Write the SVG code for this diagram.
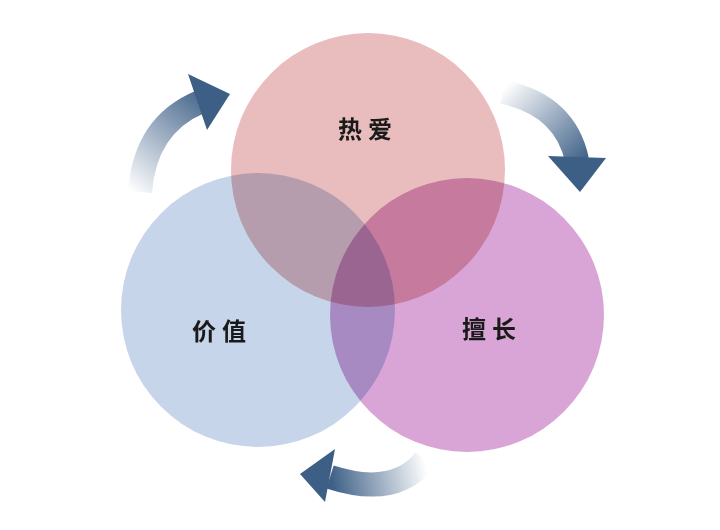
<svg xmlns="http://www.w3.org/2000/svg" width="720" height="530" viewBox="0 0 720 530">
<defs>
<style>
.c{mix-blend-mode:multiply}
.t{font-family:"Noto Sans CJK SC",sans-serif;font-size:24px;font-weight:bold;fill:#1a1a1a;text-anchor:middle;letter-spacing:6px}
</style>
<linearGradient id="g1" gradientUnits="userSpaceOnUse" x1="135" y1="195" x2="215" y2="95"><stop offset="0" stop-color="#3d5f86" stop-opacity="0"/><stop offset="1" stop-color="#3d5f86"/></linearGradient>
<linearGradient id="g2" gradientUnits="userSpaceOnUse" x1="500" y1="92" x2="578" y2="170"><stop offset="0" stop-color="#3d5f86" stop-opacity="0"/><stop offset="1" stop-color="#3d5f86"/></linearGradient>
<linearGradient id="g3" gradientUnits="userSpaceOnUse" x1="425" y1="460" x2="330" y2="478"><stop offset="0" stop-color="#3d5f86" stop-opacity="0"/><stop offset="1" stop-color="#3d5f86"/></linearGradient>
</defs>
<rect width="720" height="530" fill="#fff"/>
<g id="connectors">
<path d="M140,192 Q145,125 200,102" fill="none" stroke="url(#g1)" stroke-width="24"/>
<polygon points="230,94 188,74 207,130" fill="#3d5f86"/>
<path d="M503,92 Q565,105 577,160" fill="none" stroke="url(#g2)" stroke-width="24"/>
<polygon points="580,192 548,156 606,158" fill="#3d5f86"/>
<path d="M425,460 Q395,498 330,477" fill="none" stroke="url(#g3)" stroke-width="24"/>
<polygon points="300,474 335,449 325,502" fill="#3d5f86"/>
</g>
<g id="top"><circle class="c" cx="368" cy="170" r="137" fill="#e9bcbd"/></g>
<g id="left"><circle class="c" cx="258" cy="310" r="137" fill="#c3d3e8" opacity="0.95"/></g>
<g id="right"><circle class="c" cx="467" cy="315" r="137" fill="#d59bd2" opacity="0.9"/></g>
<g id="labels">
<text class="t" x="368" y="138">热爱</text>
<text class="t" x="222" y="340">价值</text>
<text class="t" x="492" y="338">擅长</text>
</g>
</svg>
